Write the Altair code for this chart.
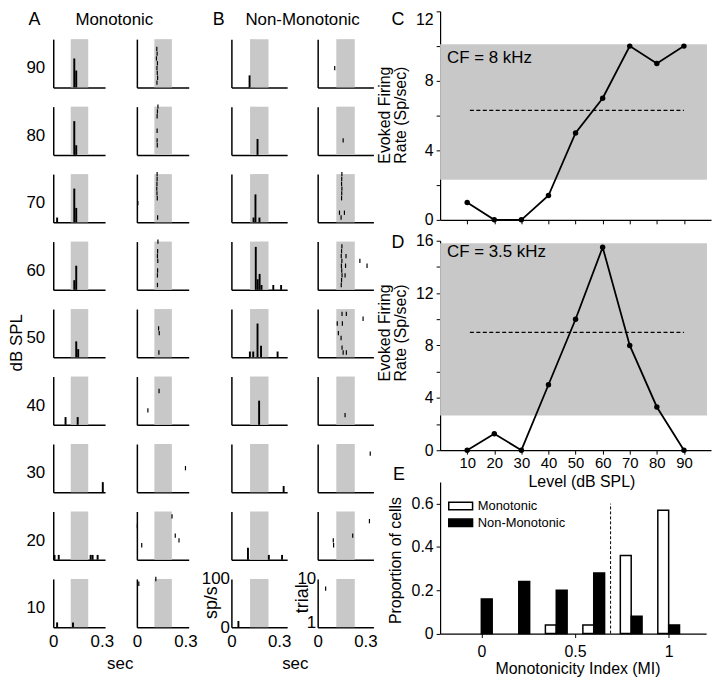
import altair as alt
import pandas as pd

# ------------------------------------------------------------------ data
LEVELS = [90, 80, 70, 60, 50, 40, 30, 20, 10]
BIN = 0.012                                   # PSTH bin width (s)
X_MAX = {"A": 0.32, "B": 0.35}                # time extent of the small panels (s)
STIM = {"A": (0.108, 0.216), "B": (0.117, 0.233)}

# PSTH: (bin start s, rate sp/s)
PSTH_MONO = {
    90: [(0.124, 60), (0.136, 35)],
    80: [(0.124, 70), (0.136, 20)],
    70: [(0.018, 10), (0.124, 70), (0.136, 30)],
    60: [(0.124, 20), (0.136, 50)],
    50: [(0.136, 33), (0.148, 17)],
    40: [(0.070, 16), (0.145, 16)],
    30: [(0.300, 21)],
    20: [(0.002, 10), (0.028, 10), (0.225, 10), (0.237, 10), (0.268, 10)],
    10: [(0.018, 10), (0.116, 10)],
}
PSTH_NONMONO = {
    90: [(0.108, 25)],
    80: [(0.158, 33)],
    70: [(0.133, 10), (0.145, 58), (0.170, 10)],
    60: [(0.147, 89), (0.159, 22), (0.171, 33), (0.183, 10), (0.257, 10), (0.306, 10)],
    50: [(0.110, 12), (0.131, 12), (0.158, 70), (0.180, 24), (0.284, 12)],
    40: [(0.168, 50)],
    30: [(0.322, 13)],
    20: [(0.098, 25), (0.229, 10), (0.312, 10)],
    10: [(0.038, 13)],
}
# Raster: (spike time s, trial)
RASTER_MONO = {
    90: [(0.123, 8), (0.125, 7), (0.121, 6), (0.127, 5), (0.124, 4), (0.126, 3), (0.128, 2), (0.124, 1)],
    80: [(0.130, 10), (0.127, 9), (0.125, 8), (0.125, 5), (0.125, 3), (0.126, 2)],
    70: [(0.006, 4), (0.125, 10), (0.125, 9), (0.124, 8), (0.123, 7), (0.124, 6), (0.126, 5), (0.128, 1)],
    60: [(0.130, 10), (0.128, 8), (0.127, 7), (0.129, 6), (0.128, 4), (0.127, 3), (0.127, 1)],
    50: [(0.134, 6), (0.138, 5), (0.136, 1)],
    40: [(0.068, 3), (0.137, 7)],
    30: [(0.300, 5)],
    20: [(0.003, 7), (0.030, 3), (0.217, 9), (0.237, 5), (0.260, 4)],
    10: [(0.012, 9), (0.117, 10)],
}
RASTER_NONMONO = {
    90: [(0.107, 4)],
    80: [(0.160, 3)],
    70: [(0.152, 10), (0.151, 9), (0.150, 8), (0.152, 7), (0.151, 6), (0.150, 5),
         (0.137, 2), (0.147, 1), (0.168, 2)],
    60: [(0.152, 9), (0.150, 8), (0.148, 7), (0.152, 6), (0.149, 5), (0.151, 4), (0.153, 3),
         (0.150, 2), (0.148, 1), (0.178, 7), (0.175, 5), (0.172, 3), (0.265, 6), (0.310, 5)],
    50: [(0.153, 9), (0.180, 9), (0.155, 7), (0.123, 7), (0.130, 5), (0.147, 4), (0.153, 2),
         (0.160, 1), (0.180, 1), (0.285, 8)],
    40: [(0.172, 2)],
    30: [(0.330, 8)],
    20: [(0.098, 4), (0.100, 3), (0.220, 5), (0.325, 8)],
    10: [(0.050, 8)],
}

LEVEL_X = [10, 20, 30, 40, 50, 60, 70, 80, 90]
C_RATE = [1.0, 0.0, 0.0, 1.4, 5.0, 7.0, 10.0, 9.0, 10.0]
D_RATE = [0.0, 1.25, 0.0, 5.0, 10.0, 15.5, 8.0, 3.3, 0.0]
C_BAND = (2.3, 10.1)
D_BAND = (2.65, 15.8)
BAND_LEVEL = (0, 98.5)
C_DASH = 6.3
D_DASH = 9.0
DASH_LEVEL = (11, 90)

MI_CENTER = [0.0, 0.2, 0.4, 0.6, 0.8, 1.0]
MI_MONO = [0.0, 0.0, 0.04, 0.04, 0.36, 0.57]
MI_NONMONO = [0.16, 0.24, 0.20, 0.28, 0.08, 0.04]
MI_CUT = 0.69
MI_CUT_TOP = 0.6
MI_HALF = 0.058

# ------------------------------------------------------------------ tables
def long_rows(d, cell, cols):
    return [dict(cell=cell, level=lv, **dict(zip(cols, v))) for lv, vals in d.items() for v in vals]

psth_df = pd.DataFrame(long_rows(PSTH_MONO, "A", ("t", "rate")) + long_rows(PSTH_NONMONO, "B", ("t", "rate")))
raster_df = pd.DataFrame(long_rows(RASTER_MONO, "A", ("t", "trial")) + long_rows(RASTER_NONMONO, "B", ("t", "trial")))
stim_df = pd.DataFrame({"cell": list(STIM), "start": [v[0] for v in STIM.values()],
                        "end": [v[1] for v in STIM.values()]})
ONE = pd.DataFrame({"k": [0]})

# ------------------------------------------------------------------ layout
FONT = "Liberation Sans"
GRAY = "#c8c8c8"
SXF, SYF = 0.985, 0.972
def sx(v): return v * SXF
def sy(v): return v * SYF

W = {"A": sx(53), "B": sx(57)}
H = sy(50)
PITCH = sy(69.5)
LP_X = sy(6.3)
LABEL_W = 17                        # width of the "dB SPL" strip
A1X = 8 + sx(47 - 8.3) - 1.1        # x of first panel origin inside LEFT
ROWLAB_L = sx(8.7) + 18.9           # left overflow of the row labels
S_L = A1X - LABEL_W - ROWLAB_L
S_A = sx(85) - 60.76 - 4.73
S_AB = sx(96) - 60.76 - 30.36
S_B = sx(88) - 59.95 - 23.85
RIGHT_OVER = 64.0
S_LR = (A1X + sx(394) - RIGHT_OVER) - (A1X + sx(269) + 59.95)

HEADER_H = sy(29) - 0.75
ROW9_TOP = sy(29) + 8 * PITCH
GRID_H = 8 * PITCH + H


def text_layer(txt, x, y, size, align="center", baseline="alphabetic", angle=0):
    return alt.Chart(ONE).mark_text(text=txt, fontSize=size, align=align, baseline=baseline,
                                    angle=angle, color="black").encode(x=alt.value(x), y=alt.value(y))


AX_SMALL = dict(grid=False, ticks=False, tickSize=0, domainWidth=1.5, domainColor="black")


def small_panel(cell, kind, lv, row):
    bottom = row == len(LEVELS) - 1
    w = W[cell]
    ymax = 100 if kind == "psth" else 10
    xs = alt.Scale(domain=[0, X_MAX[cell]], nice=False, zero=False)
    ys = alt.Scale(domain=[0, ymax], nice=False, zero=False)

    xa = dict(AX_SMALL, title=None, labelFlush=False)
    if bottom:
        xa.update(values=[0, 0.3], labelExpr="toString(datum.value)", labelFontSize=17, labelPadding=LP_X)
    else:
        xa.update(labels=False)

    ya = dict(AX_SMALL)
    if cell == "B" and bottom:
        ya.update(values=[0, 100] if kind == "psth" else [1, 10], labelExpr="toString(datum.value)",
                  labelFontSize=17, labelPadding=2, labelBaseline="middle",
                  title="sp/s" if kind == "psth" else "trial", titleAngle=270, titleAlign="center",
                  titleBaseline="alphabetic", titleX=sx(-15) if kind == "psth" else sx(-10),
                  titleY=sy(24) if kind == "psth" else sy(20), titleFontSize=18, titleFontWeight="normal")
    elif cell == "A" and kind == "psth":
        ya.update(labels=False, title=str(lv), titleAngle=0, titleAlign="right", titleBaseline="middle",
                  titleX=-sx(8.7), titleY=sy(28.5) + 1.1, titleFontSize=17, titleFontWeight="normal")
    else:
        ya.update(labels=False, title=None)
    xaxis, yaxis = alt.Axis(**xa), alt.Axis(**ya)

    stim = alt.Chart(stim_df).transform_filter(f"datum.cell == '{cell}'").transform_calculate(
        y0="0", y1=str(ymax)).mark_rect(color=GRAY).encode(
        x=alt.X("start:Q", scale=xs, axis=xaxis), x2="end:Q",
        y=alt.Y("y0:Q", scale=ys, axis=yaxis), y2="y1:Q")

    filt = f"datum.cell == '{cell}' && datum.level == {lv}"
    if kind == "psth":
        marks = alt.Chart(psth_df).transform_filter(filt).transform_calculate(
            t2=f"datum.t + {BIN}", base="0").mark_rect(color="black").encode(
            x=alt.X("t:Q", scale=xs, axis=xaxis), x2="t2:Q",
            y=alt.Y("rate:Q", scale=ys, axis=yaxis), y2="base:Q")
    else:
        marks = alt.Chart(raster_df).transform_filter(filt).transform_calculate(
            ya="datum.trial - 0.45", yb="datum.trial + 0.45").mark_rule(
            color="black", strokeWidth=1.2).encode(
            x=alt.X("t:Q", scale=xs, axis=xaxis),
            y=alt.Y("ya:Q", scale=ys, axis=yaxis), y2="yb:Q")
    return alt.layer(stim, marks).properties(width=w, height=H)


def column(cell, kind):
    return alt.vconcat(*[small_panel(cell, kind, lv, i) for i, lv in enumerate(LEVELS)],
                       spacing=PITCH - H, bounds="flush")


LABELCOL = text_layer("dB SPL", 9, 4 * PITCH + sy(16) + 20, 17, baseline="middle", angle=270).properties(
    width=LABEL_W, height=GRID_H)
GA = alt.hconcat(column("A", "psth"), column("A", "raster"), spacing=S_A)
GB = alt.hconcat(column("B", "psth"), column("B", "raster"), spacing=S_B)
GRID = alt.hconcat(LABELCOL, alt.hconcat(GA, GB, spacing=S_AB), spacing=S_L)

hy = sy(14.3) + 0.2
HEADER = alt.layer(
    text_layer("A", A1X + sx(28.3 - 47), hy, 18),
    text_layer("Monotonic", A1X + sx(110 - 47), hy, 17),
    text_layer("B", A1X + sx(216.7 - 47), hy, 18),
    text_layer("Non-Monotonic", A1X + sx(302.5 - 47), hy, 17),
).properties(width=360, height=HEADER_H)

grid_bottom = ROW9_TOP + H + LP_X + 16
fy = sy(681.7 - 4) - grid_bottom
FOOTER = alt.layer(
    text_layer("sec", A1X + sx(116 - 47), fy, 17),
    text_layer("sec", A1X + sx(295 - 47), fy, 17),
).properties(width=360, height=24)

LEFT = alt.vconcat(HEADER, GRID, FOOTER, spacing=0)

# ------------------------------------------------------------------ C / D
WC = sx(277)


def tuning(rates, band, dash, ymax, height, letter, letter_y, cf, cf_y, labels, title_y, top_flush):
    xs = alt.Scale(domain=[0, 100], nice=False, zero=False)
    ys = alt.Scale(domain=[0, ymax], nice=False, zero=False)
    xa = dict(values=LEVEL_X, tickSize=4, grid=False, domainWidth=1.2, labelFlush=False)
    if labels:
        xa.update(labelFontSize=15, labelPadding=1.7, title="Level (dB SPL)", titleFontSize=16,
                  titleFontWeight="normal", titleX=sx(585.5 - 441), titleY=sy(23.9),
                  titleBaseline="top", titleAlign="center")
    else:
        xa.update(labels=False, title=None)
    ya = dict(values=list(range(0, ymax + 1, 2)),
              labelExpr="datum.value % 4 == 0 ? datum.label : ''",
              tickSize=4, labelPadding=3, labelFontSize=16, domainWidth=1.2, grid=False,
              title=["Evoked Firing", "Rate (Sp/sec)"], titleFontSize=16, titleLineHeight=16,
              titleFontWeight="normal", titleAngle=270, titleAlign="center",
              titleBaseline="bottom", titleX=-48, titleY=title_y)
    if top_flush:
        ya["labelBaseline"] = {"condition": {"test": f"datum.value == {ymax}", "value": "top"},
                               "value": "middle"}
    xaxis, yaxis = alt.Axis(**xa), alt.Axis(**ya)

    band_df = pd.DataFrame({"x0": [BAND_LEVEL[0]], "x1": [BAND_LEVEL[1]], "y0": [band[0]], "y1": [band[1]]})
    dash_df = pd.DataFrame({"x0": [DASH_LEVEL[0]], "x1": [DASH_LEVEL[1]], "y": [dash]})
    line_df = pd.DataFrame({"level": LEVEL_X, "rate": rates})

    band_l = alt.Chart(band_df).mark_rect(color=GRAY).encode(
        x=alt.X("x0:Q", scale=xs, axis=xaxis), x2="x1:Q",
        y=alt.Y("y0:Q", scale=ys, axis=yaxis), y2="y1:Q")
    dash_l = alt.Chart(dash_df).mark_rule(color="black", strokeWidth=1.3, strokeDash=[4, 2.5]).encode(
        x=alt.X("x0:Q", scale=xs, axis=xaxis), x2="x1:Q", y=alt.Y("y:Q", scale=ys, axis=yaxis))
    line_l = alt.Chart(line_df).mark_line(
        color="black", strokeWidth=1.8,
        point=alt.OverlayMarkDef(color="black", filled=True, size=30)).encode(
        x=alt.X("level:Q", scale=xs, axis=xaxis), y=alt.Y("rate:Q", scale=ys, axis=yaxis))
    return alt.layer(
        band_l, dash_l, line_l,
        text_layer(cf, sx(7), cf_y, 17, align="left"),
        text_layer(letter, sx(-43), letter_y, 18),
    ).properties(width=WC, height=height)


HC, HD = sy(216), sy(217)
C = tuning(C_RATE, C_BAND, C_DASH, 12, HC, "C", 14.2, "CF = 8 kHz", sy(54), False, sy(107), True)
D = tuning(D_RATE, D_BAND, D_DASH, 16, HD, "D", sy(7.3), "CF = 3.5 kHz", sy(17), True, sy(95), False)

# ------------------------------------------------------------------ E
WE, HE = sx(272), sy(157)
e_df = pd.DataFrame({
    "series": ["Monotonic"] * len(MI_CENTER) + ["Non-Monotonic"] * len(MI_CENTER),
    "center": MI_CENTER * 2,
    "prop": MI_MONO + MI_NONMONO,
})
exs = alt.Scale(domain=[-0.22, 1.2], nice=False, zero=False)
eys = alt.Scale(domain=[0, 0.7], nice=False, zero=False)
e_xaxis = alt.Axis(values=[0, 0.5, 1], labelExpr="toString(datum.value)", tickSize=4, labelPadding=6,
                   labelFontSize=16, labelFlush=False, grid=False, domainWidth=1.2,
                   title="Monotonicity Index (MI)", titleFontSize=16, titleFontWeight="normal",
                   titleX=sx(581.5 - 441), titleY=sy(27.6), titleBaseline="top", titleAlign="center")
e_yaxis = alt.Axis(values=[0, 0.2, 0.4, 0.6], labelExpr="toString(datum.value)", tickSize=4,
                   labelPadding=3, labelFontSize=16, grid=False, domainWidth=1.2,
                   title="Proportion of cells", titleFontSize=16, titleFontWeight="normal",
                   titleAngle=270, titleAlign="center", titleBaseline="bottom",
                   titleX=sx(-37), titleY=sy(80.8))

e_bars = alt.Chart(e_df).transform_filter("datum.prop > 0").transform_calculate(
    x0=f"datum.series == 'Monotonic' ? datum.center - {MI_HALF} : datum.center",
    x1=f"datum.series == 'Monotonic' ? datum.center : datum.center + {MI_HALF}",
    base="0",
).mark_rect(stroke="black", strokeWidth=1.5).encode(
    x=alt.X("x0:Q", scale=exs, axis=e_xaxis), x2="x1:Q",
    y=alt.Y("prop:Q", scale=eys, axis=e_yaxis), y2="base:Q",
    color=alt.Color("series:N",
                    scale=alt.Scale(domain=["Monotonic", "Non-Monotonic"], range=["white", "black"]),
                    legend=alt.Legend(title=None, orient="none", legendX=14.2, legendY=17.6,
                                      symbolType="M-2.4,-0.75H2.4V0.75H-2.4Z", symbolSize=100,
                                      symbolStrokeColor="black", symbolStrokeWidth=1.5,
                                      labelFontSize=13, labelOffset=10.7, rowPadding=2,
                                      padding=0, labelColor="black")),
)
cut_df = pd.DataFrame({"x": [MI_CUT], "y0": [0], "y1": [MI_CUT_TOP]})
e_cut = alt.Chart(cut_df).mark_rule(color="black", strokeWidth=1, strokeDash=[3, 2]).encode(
    x=alt.X("x:Q", scale=exs, axis=e_xaxis), y=alt.Y("y0:Q", scale=eys, axis=e_yaxis), y2="y1:Q")
E = alt.layer(e_bars, e_cut, text_layer("E", sx(-42), sy(-1.7), 18)).properties(width=WE, height=HE)


def spacer(h):
    return alt.Chart(ONE).mark_point(opacity=0, size=1).encode(
        x=alt.value(0), y=alt.value(0)).properties(width=1, height=h)


RIGHT = alt.vconcat(C, spacer(sy(21)), D, spacer(sy(32)), E, spacing=0, bounds="flush").resolve_scale(
    color="independent").resolve_legend(color="independent")

chart = alt.hconcat(LEFT, RIGHT, spacing=S_LR).resolve_scale(color="independent").resolve_legend(
    color="independent").properties(
    padding=0, background="white"
).configure(font=FONT).configure_view(stroke=None).configure_axis(
    domainColor="black", tickColor="black", labelColor="black", titleColor="black",
    labelFont=FONT, titleFont=FONT
).configure_text(font=FONT)

chart.save("out.html", embed_options={"renderer": "svg", "actions": False})
